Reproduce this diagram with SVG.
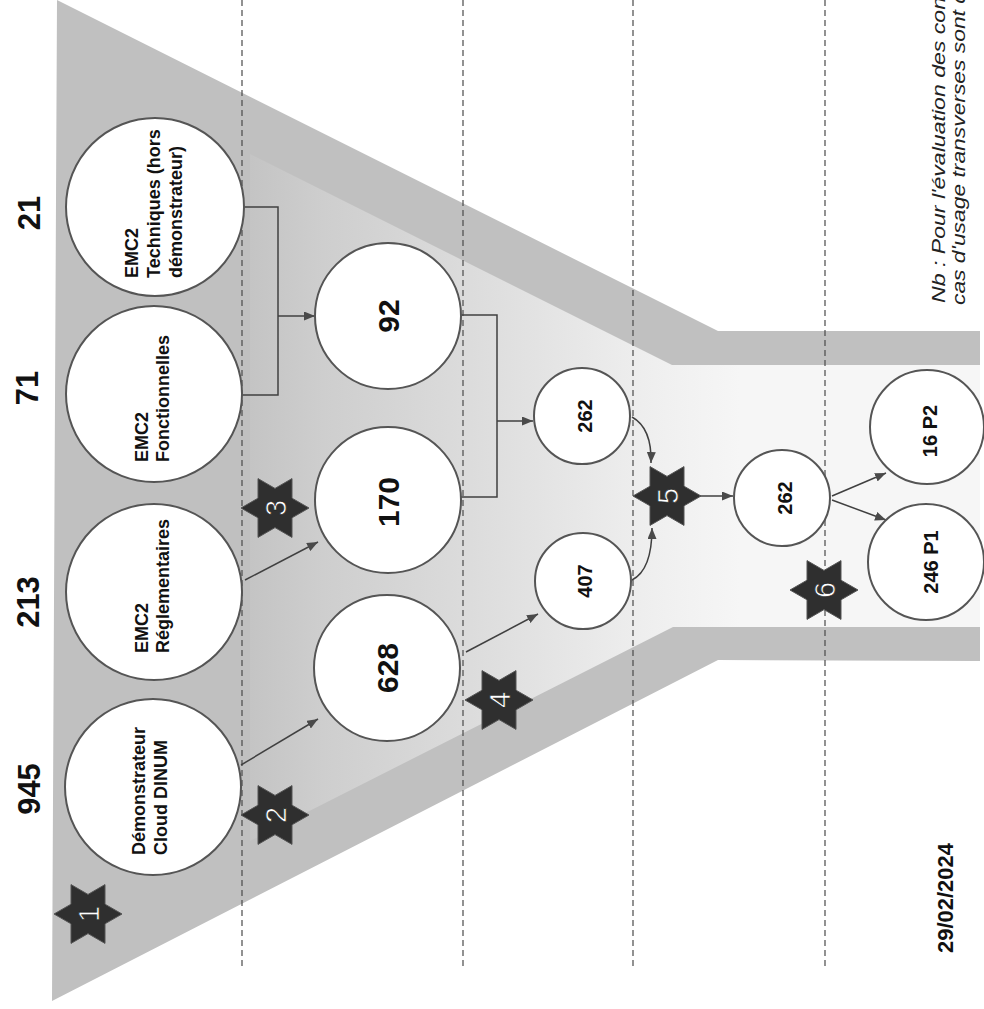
<svg xmlns="http://www.w3.org/2000/svg" width="984" height="1009" viewBox="0 0 984 1009">
  <defs>
    <linearGradient id="inner" gradientUnits="userSpaceOnUse" x1="250" y1="0" x2="740" y2="0">
      <stop offset="0" stop-color="#c4c4c4"/>
      <stop offset="0.15" stop-color="#cecece"/>
      <stop offset="0.45" stop-color="#dcdcdc"/>
      <stop offset="0.8" stop-color="#eeeeee"/>
      <stop offset="1" stop-color="#f6f6f6"/>
    </linearGradient>
    <marker id="arr" markerUnits="userSpaceOnUse" markerWidth="12" markerHeight="9" refX="11" refY="4.5" orient="auto">
      <path d="M0,0 L11,4.5 L0,9 z" fill="#4a4a4a"/>
    </marker>
    <polygon id="star" points="34,0 17,9.8 17,29.4 0,19.6 -17,29.4 -17,9.8 -34,0 -17,-9.8 -17,-29.4 0,-19.6 17,-29.4 17,-9.8"/>
    <style>
      .dash { stroke: #4a4a4a; stroke-width: 1.2; stroke-dasharray: 6 4; fill: none; }
      .node circle { fill: #ffffff; stroke: #555555; stroke-width: 2; }
      .conn { stroke: #404040; stroke-width: 1.5; fill: none; }
      .lbl { font-family: "Liberation Sans", Arial, sans-serif; font-weight: bold; fill: #111111; }
      .big { font-size: 30px; text-anchor: middle; }
      .mid { font-size: 20px; text-anchor: middle; }
      .small { font-size: 18px; }
      .top { font-size: 31px; text-anchor: middle; }
      .stars use { fill: #2f2f2f; stroke: #555555; stroke-width: 1; }
      .snum { font-family: "Liberation Sans", Arial, sans-serif; font-size: 29px; fill: #ffffff; stroke: #222222; stroke-width: 0.6; text-anchor: middle; }
      .note { font-family: "Liberation Sans", Arial, sans-serif; font-style: italic; font-size: 19px; fill: #222222; }
    </style>
  </defs>

  <rect x="0" y="0" width="984" height="1009" fill="#ffffff"/>

  <g id="funnel">
    <polygon points="57,0 718,331 980,331 980,661 718,660 52,1001" fill="#c0c0c0"/>
    <polygon points="250,154 672,365 980,365 980,627 673,627 250,841" fill="url(#inner)"/>
  </g>

  <g id="stages">
    <line class="dash" x1="242" y1="0" x2="242" y2="970"/>
    <line class="dash" x1="463" y1="0" x2="463" y2="970"/>
    <line class="dash" x1="633" y1="0" x2="633" y2="970"/>
    <line class="dash" x1="825" y1="0" x2="825" y2="970"/>
  </g>

  <g id="connectors">
    <path class="conn" d="M242,207 H278 V395 H242"/>
    <path class="conn" d="M278,316 H315" marker-end="url(#arr)"/>
    <path class="conn" d="M461,315 H497 V497 H461"/>
    <path class="conn" d="M497,421 H533" marker-end="url(#arr)"/>
    <path class="conn" d="M241,765 L318,719" marker-end="url(#arr)"/>
    <path class="conn" d="M245,580 L318,542" marker-end="url(#arr)"/>
    <path class="conn" d="M466,652 L538,614" marker-end="url(#arr)"/>
    <path class="conn" d="M632,417 Q652,428 651,463" marker-end="url(#arr)"/>
    <path class="conn" d="M632,580 Q652,570 652,528" marker-end="url(#arr)"/>
    <path class="conn" d="M700,496 H733" marker-end="url(#arr)"/>
    <path class="conn" d="M832,496 L886,473" marker-end="url(#arr)"/>
    <path class="conn" d="M832,500 L886,520" marker-end="url(#arr)"/>
  </g>

  <g id="node-demonstrateur" class="node">
    <circle cx="153" cy="787" r="88"/>
    <text class="lbl small" transform="translate(145,855) rotate(-90)"><tspan x="0" y="0">Démonstrateur</tspan><tspan x="0" y="22">Cloud DINUM</tspan></text>
  </g>
  <g id="node-reglementaires" class="node">
    <circle cx="154" cy="592" r="88"/>
    <text class="lbl small" transform="translate(148,653) rotate(-90)"><tspan x="0" y="0">EMC2</tspan><tspan x="0" y="21">Réglementaires</tspan></text>
  </g>
  <g id="node-fonctionnelles" class="node">
    <circle cx="154" cy="394" r="88"/>
    <text class="lbl small" transform="translate(148,462) rotate(-90)"><tspan x="0" y="0">EMC2</tspan><tspan x="0" y="21">Fonctionnelles</tspan></text>
  </g>
  <g id="node-techniques" class="node">
    <circle cx="155" cy="207" r="89"/>
    <text class="lbl small" transform="translate(138,278) rotate(-90)"><tspan x="0" y="0">EMC2</tspan><tspan x="0" y="22">Techniques (hors</tspan><tspan x="0" y="44">démonstrateur)</tspan></text>
  </g>

  <g id="node-92" class="node">
    <circle cx="388" cy="316" r="73"/>
    <text class="lbl big" transform="translate(399,316) rotate(-90)">92</text>
  </g>
  <g id="node-170" class="node">
    <circle cx="388" cy="500" r="73"/>
    <text class="lbl big" transform="translate(399,502) rotate(-90)">170</text>
  </g>
  <g id="node-628" class="node">
    <circle cx="387" cy="668" r="73"/>
    <text class="lbl big" transform="translate(398,668) rotate(-90)">628</text>
  </g>

  <g id="node-262a" class="node">
    <circle cx="582" cy="416" r="48"/>
    <text class="lbl mid" transform="translate(592,416) rotate(-90)">262</text>
  </g>
  <g id="node-407" class="node">
    <circle cx="583" cy="581" r="48"/>
    <text class="lbl mid" transform="translate(592,581) rotate(-90)">407</text>
  </g>
  <g id="node-262b" class="node">
    <circle cx="782" cy="498" r="48"/>
    <text class="lbl mid" transform="translate(792,498) rotate(-90)">262</text>
  </g>
  <g id="node-p2" class="node">
    <circle cx="927" cy="427" r="57"/>
    <text class="lbl mid" transform="translate(937,431) rotate(-90)">16 P2</text>
  </g>
  <g id="node-p1" class="node">
    <circle cx="926" cy="562" r="58"/>
    <text class="lbl mid" transform="translate(938,562) rotate(-90)">246 P1</text>
  </g>

  <g id="steps" class="stars">
    <g id="step-1"><use href="#star" x="88" y="914"/><text class="snum" transform="translate(98.5,914) rotate(-90)">1</text></g>
    <g id="step-2"><use href="#star" x="275" y="815"/><text class="snum" transform="translate(285.5,815) rotate(-90)">2</text></g>
    <g id="step-3"><use href="#star" x="275" y="508"/><text class="snum" transform="translate(285.5,508) rotate(-90)">3</text></g>
    <g id="step-4"><use href="#star" x="499" y="700"/><text class="snum" transform="translate(509.5,700) rotate(-90)">4</text></g>
    <g id="step-5"><use href="#star" x="667" y="496"/><text class="snum" transform="translate(677.5,496) rotate(-90)">5</text></g>
    <g id="step-6"><use href="#star" x="824" y="590"/><text class="snum" transform="translate(834.5,590) rotate(-90)">6</text></g>
  </g>

  <g id="counts">
    <text class="lbl top" transform="translate(40,789) rotate(-90)">945</text>
    <text class="lbl top" transform="translate(39,602) rotate(-90)">213</text>
    <text class="lbl top" transform="translate(38,388) rotate(-90)">71</text>
    <text class="lbl top" transform="translate(40,213) rotate(-90)">21</text>
  </g>

  <g id="footer">
    <text class="lbl" font-size="22" text-anchor="middle" transform="translate(953,898) rotate(-90)">29/02/2024</text>
    <text class="note" transform="translate(945,303) rotate(-90)" textLength="306" lengthAdjust="spacingAndGlyphs">Nb : Pour l'évaluation des con</text>
    <text class="note" transform="translate(965,305) rotate(-90)" textLength="314" lengthAdjust="spacingAndGlyphs">cas d'usage transverses sont d</text>
  </g>
</svg>
